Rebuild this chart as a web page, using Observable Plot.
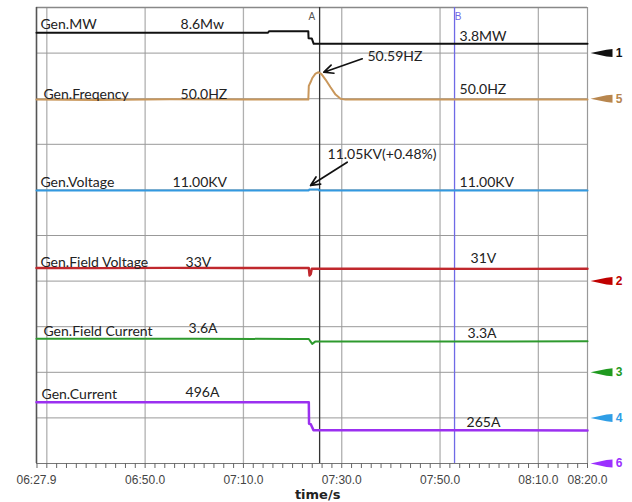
<!DOCTYPE html>
<html><head><meta charset="utf-8">
<script src="https://cdn.jsdelivr.net/npm/d3@7"></script>
<script src="https://cdn.jsdelivr.net/npm/@observablehq/plot@0.6"></script>
<style>body{margin:0;background:#fff} svg{display:block}</style>
</head><body><div id="chart"></div>
<script>
// ---- time axis (seconds; 387.9 s = 06:27.9) ----
const xDomain = [387.9, 500];
const xTickLabels = [387.9, 410, 430, 450, 470, 490, 500];
const xGrid = [390, 410, 430, 450, 470, 490];
const cursorNames = ["A", "B"];
const cursorTimes = [445.5, 472.95];

// ---- channels: reference division (marker level), units per division, offset ----
const channelNames = ["Gen.MW", "Gen.Freqency", "Gen.Voltage", "Gen.Field Voltage", "Gen.Field Current", "Gen.Current"];
const channelMarker = ["1", "5", "4", "2", "3", "6"];
const channelRefDiv = [9, 8, 1, 4, 2, 0];
const channelUnitPerDiv = [18.6, 1, 2.205, 115, 4.9, 369];
const channelOffset = [0, 50, 0, 0, 0, 0];

// ---- series values ----
const mwTime = [387.9, 435.0, 435.2, 443.2, 443.25, 443.9, 444.3, 500];
const mwValue = [8.3, 8.3, 8.9, 8.9, 6.1, 6.0, 3.8, 3.8];

const freqTime = [387.9, 400, 415, 430, 443.2, 443.3, 443.65, 444.05, 444.66, 445.27, 445.88, 446.7, 447.72, 448.74, 449.76, 450.78, 470, 500];
const freqValue = [49.98, 49.97, 49.99, 49.98, 49.98, 50.28, 50.36, 50.46, 50.55, 50.58, 50.54, 50.42, 50.25, 50.09, 50.0, 49.98, 49.98, 49.98];

const voltTime = [387.9, 443.3, 443.4, 445.3, 445.4, 500];
const voltValue = [11.00, 11.00, 11.05, 11.05, 11.00, 11.00];

const fvTime = [387.9, 400, 415, 430, 443.3, 443.45, 443.7, 443.9, 460, 480, 500];
const fvValue = [33, 32.7, 33.3, 33, 33, 14, 18, 31, 31.3, 30.8, 31];

const fcTime = [387.9, 420, 440, 443.3, 443.99, 444.6, 500];
const fcValue = [3.6, 3.61, 3.58, 3.58, 3.06, 3.3, 3.33];

const curTime = [387.9, 443.3, 443.35, 443.7, 444.25, 500];
const curValue = [496, 496, 321, 318, 270, 268];

const seriesTimes = [mwTime, freqTime, voltTime, fvTime, fcTime, curTime];
const seriesValues = [mwValue, freqValue, voltValue, fvValue, fcValue, curValue];
const seriesColors = ["#111111", "#c9975b", "#3399e0", "#c0282d", "#2e9a2e", "#9b30f0"];
const markerColors = ["#111111", "#b8864e", "#2f9ee6", "#c00000", "#1f9a1f", "#9b30ff"];

// ---- annotations (time, division) ----
const labelTexts = ["Gen.MW","8.6Mw","3.8MW","Gen.Freqency","50.0HZ","50.0HZ","50.59HZ","Gen.Voltage","11.00KV","11.00KV","11.05KV(+0.48%)","Gen.Field Voltage","33V","31V","Gen.Field Current","3.6A","3.3A","Gen.Current","496A","265A"];
const labelTimes = [388.71, 417.2, 473.96, 389.32, 417.2, 473.96, 455.24, 388.71, 415.57, 473.96, 447.11, 388.71, 418.22, 476.2, 389.32, 418.83, 475.59, 388.92, 418.22, 475.39];
const labelDivs = [9.518, 9.518, 9.276, 8.004, 8.004, 8.114, 8.816, 6.053, 6.053, 6.053, 6.667, 4.320, 4.320, 4.386, 2.807, 2.851, 2.763, 1.425, 1.469, 0.811];
const arrowFrom = [[454.17, 8.875], [451.11, 6.607]];
const arrowTo = [[446.35, 8.581], [443.65, 6.096]];

// ---- build tables ----
const toDiv = (ci, v) => channelRefDiv[ci] + (v - channelOffset[ci]) / channelUnitPerDiv[ci];
const series = seriesTimes.map((ts, ci) => ts.map((t, i) => ({t, d: toDiv(ci, seriesValues[ci][i])})));
const labels = labelTexts.map((text, i) => ({text, t: labelTimes[i], d: labelDivs[i]}));
const arrows = arrowFrom.map((f, i) => ({x1: f[0], y1: f[1], x2: arrowTo[i][0], y2: arrowTo[i][1]}));
const markers = channelMarker.map((m, i) => ({m, d: channelRefDiv[i], c: markerColors[i]}));

const fmt = t => {
  const m = Math.floor(t / 60), s = t - m * 60;
  return String(m).padStart(2, "0") + ":" + s.toFixed(1).padStart(4, "0");
};
const wedge = {draw(ctx) { ctx.moveTo(-11, 0); ctx.lineTo(5, -3.4); ctx.lineTo(11, -4); ctx.lineTo(11, 4); ctx.lineTo(5, 3.4); ctx.closePath(); }};
const FONT = "Lato, 'Open Sans', sans-serif";

const chart = Plot.plot({
  width: 632, height: 502,
  marginLeft: 36, marginRight: 45, marginTop: 7, marginBottom: 39,
  x: {domain: xDomain},
  y: {domain: [0, 10], axis: null},
  color: {type: "identity"},
  style: {fontFamily: "'Liberation Sans', Arial, sans-serif", background: "#fff"},
  marks: [
    Plot.ruleX(xGrid, {stroke: "#b0b0b0", strokeWidth: 1.3}),
    Plot.ruleY(d3.range(1, 10), {stroke: "#999", strokeWidth: 1}),
    Plot.ruleY([10], {stroke: "#888", strokeWidth: 1.3}),
    Plot.ruleY([0], {stroke: "#777", strokeWidth: 1.2}),
    Plot.ruleX([xDomain[0]], {stroke: "#555", strokeWidth: 1.6}),
    Plot.ruleX([xDomain[1]], {stroke: "#999", strokeWidth: 1.2}),
    Plot.axisX({ticks: d3.range(388, 501, 2), tickSize: 5, tickFormat: () => "", stroke: "#666"}),
    Plot.axisX({ticks: xTickLabels, tickSize: 0, tickPadding: 12, tickFormat: fmt, fontSize: 12, fill: "#444"}),
    Plot.text(["time/s"], {x: 445.1, frameAnchor: "bottom", dy: 35, lineAnchor: "bottom", fontSize: 13, fontWeight: "bold", fill: "#222", fontFamily: "'DejaVu Sans', sans-serif", textAnchor: "middle"}),
    Plot.ruleX([cursorTimes[0]], {stroke: "#333", strokeWidth: 1.3}),
    Plot.ruleX([cursorTimes[1]], {stroke: "#6f6ae6", strokeWidth: 1.3}),
    Plot.text([cursorNames[0]], {x: cursorTimes[0] - 1.6, y: 9.715, fontSize: 10, fill: "#555", lineAnchor: "bottom", textAnchor: "middle"}),
    Plot.text([cursorNames[1]], {x: cursorTimes[1] + 0.7, y: 9.715, fontSize: 10, fill: "#6f6ae6", lineAnchor: "bottom", textAnchor: "middle"}),
    ...series.map((s, ci) => Plot.line(s, {x: "t", y: "d", stroke: seriesColors[ci], strokeWidth: ci === 3 ? 2.4 : (ci === 5 ? 2.5 : 2)})),
    Plot.text(labels, {x: "t", y: "d", text: "text", textAnchor: "start", lineAnchor: "bottom", fontSize: 14, fill: "#222", fontFamily: FONT}),
    Plot.arrow(arrows, {x1: "x1", y1: "y1", x2: "x2", y2: "y2", stroke: "#111", strokeWidth: 1.7, headLength: 9, headAngle: 50}),
    Plot.dot(markers, {x: () => xDomain[1], y: "d", symbol: wedge, fill: "c", dx: 14}),
    Plot.text(markers, {x: () => xDomain[1], y: "d", text: "m", fill: "c", dx: 31.5, fontSize: 12, fontWeight: "bold", textAnchor: "middle"})
  ]
});
document.getElementById("chart").appendChild(chart);
</script>
</body></html>
